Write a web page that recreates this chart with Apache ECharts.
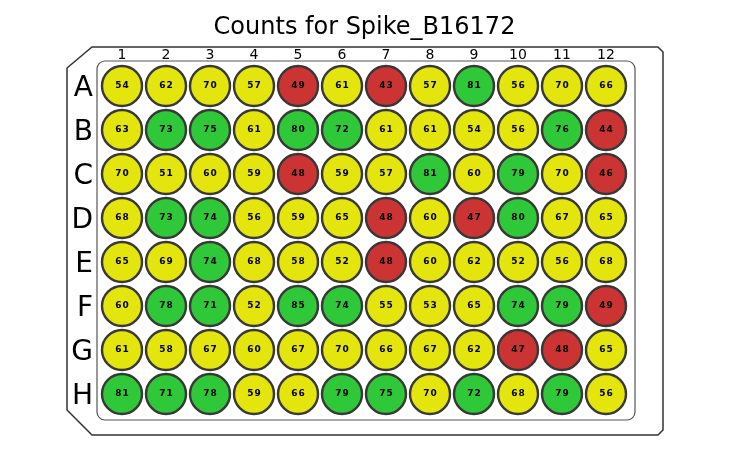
<!DOCTYPE html>
<html>
<head>
<meta charset="utf-8">
<script src="https://cdn.jsdelivr.net/npm/echarts@6/dist/echarts.min.js"></script>
<style>
  html, body { margin: 0; padding: 0; background: #fff; }
  #chart { width: 729px; height: 450px; }
</style>
</head>
<body>
<div id="chart"></div>
<script>
// plate layout labels
var cols = ['1', '2', '3', '4', '5', '6', '7', '8', '9', '10', '11', '12'];
var rows = ['A', 'B', 'C', 'D', 'E', 'F', 'G', 'H'];

// counts per well, one array per row
var rowA = [54, 62, 70, 57, 49, 61, 43, 57, 81, 56, 70, 66];
var rowB = [63, 73, 75, 61, 80, 72, 61, 61, 54, 56, 76, 44];
var rowC = [70, 51, 60, 59, 48, 59, 57, 81, 60, 79, 70, 46];
var rowD = [68, 73, 74, 56, 59, 65, 48, 60, 47, 80, 67, 65];
var rowE = [65, 69, 74, 68, 58, 52, 48, 60, 62, 52, 56, 68];
var rowF = [60, 78, 71, 52, 85, 74, 55, 53, 65, 74, 79, 49];
var rowG = [61, 58, 67, 60, 67, 70, 66, 67, 62, 47, 48, 65];
var rowH = [81, 71, 78, 59, 66, 79, 75, 70, 72, 68, 79, 56];

// colour thresholds
var lowLimit = 50;
var highLimit = 70;

var plate = [rowA, rowB, rowC, rowD, rowE, rowF, rowG, rowH];
var wells = [];
for (var r = 0; r < plate.length; r++) {
  for (var c = 0; c < plate[r].length; c++) {
    wells.push([c, r, plate[r][c]]);
  }
}

var chart = echarts.init(document.getElementById('chart'));
var font = 'DejaVu Sans';

var option = {
  backgroundColor: '#fff',
  animation: false,
  title: {
    text: 'Counts for Spike_B16172',
    left: 'center',
    top: 11,
    textStyle: { fontFamily: font, fontSize: 24, fontWeight: 'normal', color: '#000' }
  },
  grid: { left: 100, top: 64, width: 528, height: 352 },
  xAxis: {
    type: 'category',
    position: 'top',
    data: cols,
    axisLine: { show: false },
    axisTick: { show: false },
    splitLine: { show: false },
    axisLabel: { fontFamily: font, fontSize: 14, color: '#000', margin: 2 }
  },
  yAxis: {
    type: 'category',
    inverse: true,
    data: rows,
    axisLine: { show: false },
    axisTick: { show: false },
    splitLine: { show: false },
    // row letters sit a little below the well centres
    axisLabel: { fontFamily: font, fontSize: 28, color: '#000', margin: 7, verticalAlign: 'top', lineHeight: 6 }
  },
  visualMap: {
    type: 'piecewise',
    show: false,
    dimension: 2,
    pieces: [
      { lt: lowLimit, color: '#cc3333' },
      { gte: lowLimit, lte: highLimit, color: '#e5e50e' },
      { gt: highLimit, color: '#2ec838' }
    ]
  },
  graphic: [
    {
      type: 'polygon',
      z: -10,
      shape: {
        points: [[67, 68], [92, 47], [658, 47], [663, 52], [663, 430], [658, 435], [92, 435], [67, 410]]
      },
      style: { fill: '#fff', stroke: '#333', lineWidth: 1.5 }
    },
    {
      type: 'rect',
      z: -9,
      shape: { x: 97, y: 61, width: 538, height: 359, r: 8 },
      style: { fill: '#fff', stroke: '#555', lineWidth: 1.2 }
    }
  ],
  series: [
    {
      type: 'scatter',
      symbol: 'circle',
      symbolSize: 40,
      data: wells,
      itemStyle: { borderColor: '#383838', borderWidth: 2.4, opacity: 1 },
      label: {
        show: true,
        position: 'inside',
        // digits are spread out a little, as in the original plate plot
        formatter: function (p) { return String(p.value[2]).split('').join('\u200a'); },
        fontFamily: font,
        fontSize: 9,
        fontWeight: 'bold',
        color: '#000'
      },
      emphasis: { disabled: true }
    }
  ]
};

chart.setOption(option);
</script>
</body>
</html>
